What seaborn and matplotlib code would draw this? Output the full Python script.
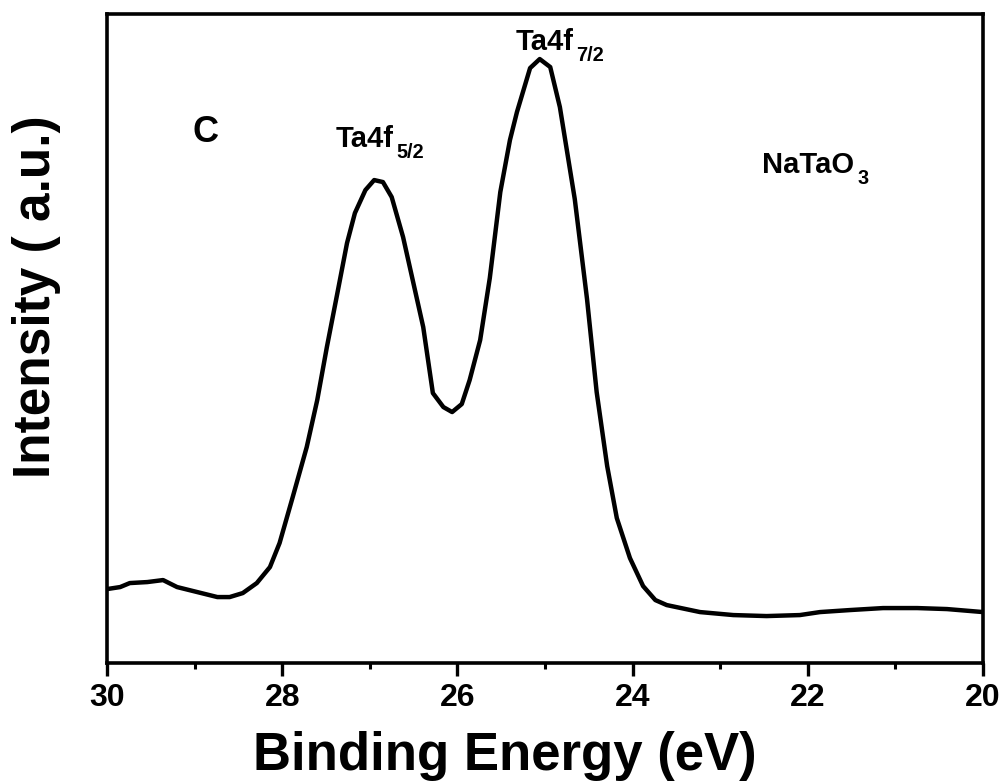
import matplotlib
matplotlib.use("Agg")
import matplotlib.pyplot as plt
from matplotlib.ticker import MultipleLocator
import seaborn as sns
import pandas as pd

binding_energy = [30.00, 29.85, 29.74, 29.54, 29.36, 29.20, 28.97, 28.74, 28.60, 28.45,
                  28.29, 28.14, 28.03, 27.88, 27.72, 27.60, 27.49, 27.37, 27.26, 27.17,
                  27.05, 26.95, 26.85, 26.75, 26.62, 26.51, 26.39, 26.28, 26.16, 26.06,
                  25.95, 25.86, 25.74, 25.63, 25.51, 25.40, 25.32, 25.17, 25.06, 24.94,
                  24.83, 24.66, 24.52, 24.41, 24.29, 24.18, 24.03, 23.88, 23.74, 23.61,
                  23.23, 22.85, 22.47, 22.09, 21.86, 21.52, 21.14, 20.75, 20.41, 20.00]
intensity = [74, 76, 80, 81, 83, 76, 71, 66, 66, 70,
             80, 96, 120, 166, 216, 263, 316, 370, 420, 450,
             473, 483, 481, 466, 426, 383, 336, 270, 256, 251,
             259, 283, 323, 385, 471, 523, 551, 595, 604, 596,
             556, 464, 364, 271, 197, 145, 105, 77, 63, 58,
             51, 48, 47, 48, 51, 53, 55, 55, 54, 51]

x_ticks = [30, 28, 26, 24, 22, 20]
x_tick_labels = ["30", "28", "26", "24", "22", "20"]

# (x, y, main text, subscript, ha, fontsize)
annotations = [
    (28.88, 521, "C", "", "center", 26),
    (27.39, 516, "Ta4f", "5/2", "left", 21),
    (25.34, 613, "Ta4f", "7/2", "left", 21),
    (22.52, 490, "NaTaO", "3", "left", 21),
]

sns.set_style("ticks")
plt.rcParams["font.family"] = ["Liberation Sans", "DejaVu Sans"]
plt.rcParams["text.color"] = "black"
plt.rcParams["axes.labelcolor"] = "black"
plt.rcParams["xtick.color"] = "black"
plt.rcParams["xtick.labelcolor"] = "black"

fig = plt.figure(figsize=(10.03, 7.81), dpi=100)
ax = fig.add_axes([0.1067, 0.151, 0.8733, 0.831])

df = pd.DataFrame({"be": binding_energy, "I": intensity})
sns.lineplot(data=df, x="be", y="I", sort=False, color="black", linewidth=3.2, ax=ax)

ax.set_xlim(30, 20)
ax.set_ylim(0, 649)
ax.set_xticks(x_ticks)
ax.set_xticklabels(x_tick_labels, fontsize=23, fontweight="bold", color="black")
ax.xaxis.set_minor_locator(MultipleLocator(1))
ax.set_yticks([])
ax.tick_params(axis="x", which="major", direction="out", length=9, width=2.4, pad=5, colors="black")
ax.tick_params(axis="x", which="minor", direction="out", length=4.5, width=2.2, colors="black")
for s in ax.spines.values():
    s.set_visible(True)
    s.set_linewidth(2.6)
    s.set_color("black")

ax.set_xlabel("Binding Energy (eV)", fontsize=38, fontweight="bold", color="black")
ax.xaxis.set_label_coords(0.454, -0.105)
ax.set_ylabel("Intensity ( a.u.)", fontsize=37, fontweight="bold", color="black")
ax.yaxis.set_label_coords(-0.052, 0.564)

fig.canvas.draw()
renderer = fig.canvas.get_renderer()
for x, y, main, sub, ha, fs in annotations:
    t = ax.text(x, y, main, ha=ha, va="baseline", fontsize=fs, fontweight="bold", color="black")
    if sub:
        bb = t.get_window_extent(renderer=renderer)
        xs, _ = ax.transData.inverted().transform((bb.x1 + 3, 0))
        ax.annotate(sub, xy=(xs, y), xytext=(0, -8), textcoords="offset points",
                    ha="left", va="baseline", fontsize=fs * 0.68, fontweight="bold",
                    color="black")

fig.savefig("out.png", dpi=100, facecolor="white")
